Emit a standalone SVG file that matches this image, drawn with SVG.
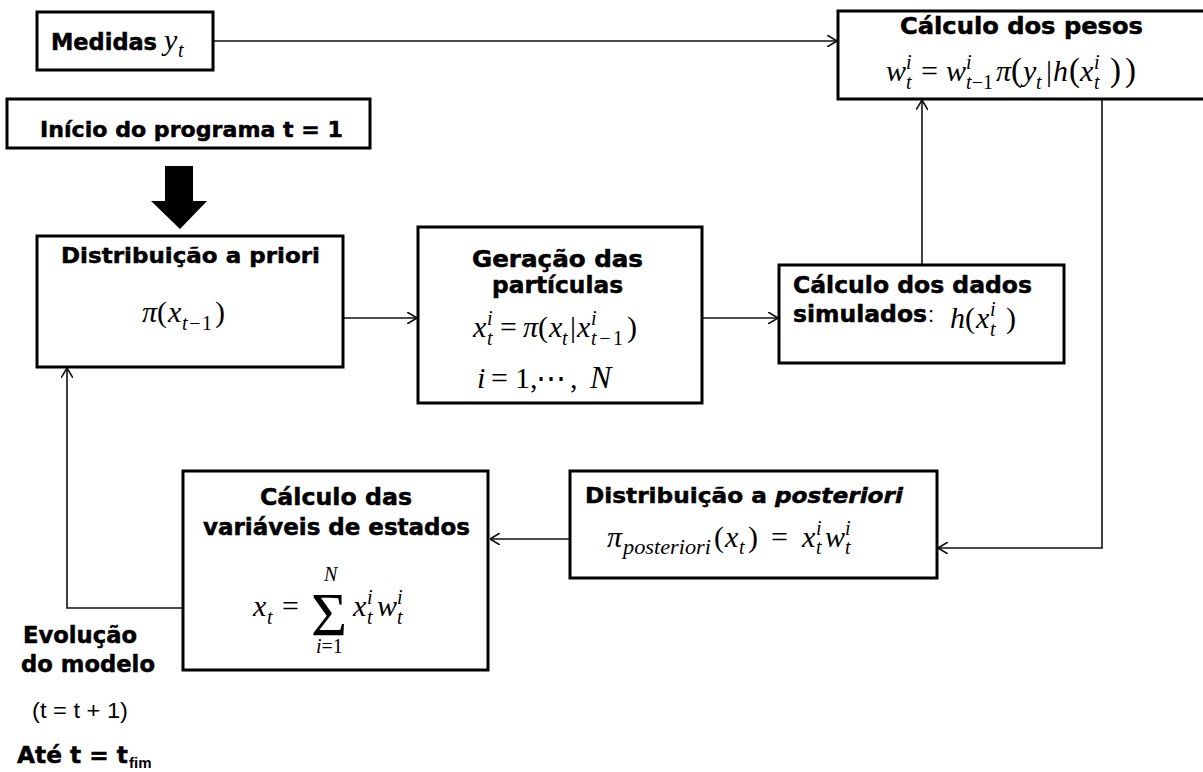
<svg xmlns="http://www.w3.org/2000/svg" width="1203" height="772" viewBox="0 0 1203 772">
<defs>
<style>
.box{fill:#fff;stroke:#000;stroke-width:3}
.lbl{font-family:"DejaVu Sans","Liberation Sans",sans-serif;font-weight:bold;font-size:23px;fill:#000;stroke:#000;stroke-width:0.5}
.reg{font-family:"Liberation Sans","Arial",sans-serif;font-size:22px;fill:#000}
.mi{font-family:"Liberation Serif","DejaVu Serif",serif;font-style:italic;font-size:30px;fill:#000}
.mu{font-family:"Liberation Serif","DejaVu Serif",serif;font-style:normal;font-size:30px;fill:#000}
.s{font-size:20px}
.up{font-style:normal}
.con{fill:none;stroke:#111;stroke-width:1.6}
</style>
<marker id="arr" viewBox="0 0 10 12" refX="10" refY="6" markerWidth="10" markerHeight="12" markerUnits="userSpaceOnUse" orient="auto">
<path d="M0,0 L10,6 L0,12" fill="none" stroke="#111" stroke-width="1.6"/>
</marker>
</defs>
<rect width="1203" height="772" fill="#fff"/>

<g id="connectors">
<path class="con" d="M213,41 H837" marker-end="url(#arr)"/>
<path class="con" d="M343,318 H417" marker-end="url(#arr)"/>
<path class="con" d="M702,318 H778" marker-end="url(#arr)"/>
<path class="con" d="M922,265 V100" marker-end="url(#arr)"/>
<path class="con" d="M1102,99 V548 H938" marker-end="url(#arr)"/>
<path class="con" d="M570,539 H490" marker-end="url(#arr)"/>
<path class="con" d="M183,608 H67 V368" marker-end="url(#arr)"/>
<polygon points="165,166 193,166 193,201 207,201 180,229 151,201 165,201" fill="#000"/>
</g>

<g id="medidas">
<rect class="box" x="37" y="12" width="176" height="58"/>
<text class="lbl" x="51" y="50" textLength="106" lengthAdjust="spacingAndGlyphs">Medidas</text>
<text class="mi" x="164" y="50">y</text>
<text class="mi s" x="178" y="57">t</text>
</g>

<g id="inicio">
<rect class="box" x="7" y="99" width="363" height="49"/>
<text class="lbl" x="40" y="137" style="font-size:22px" textLength="303" lengthAdjust="spacingAndGlyphs">Início do programa t = 1</text>
</g>

<g id="priori">
<rect class="box" x="37" y="236" width="306" height="131"/>
<text class="lbl" x="61" y="263" style="font-size:22px" textLength="259" lengthAdjust="spacingAndGlyphs">Distribuição a priori</text>
<text class="mi" x="142" y="322">π</text>
<text class="mu" x="157" y="322">(</text>
<text class="mi" x="168" y="322">x</text>
<text class="mi s" x="182" y="330" textLength="30" lengthAdjust="spacing">t<tspan class="up">−1</tspan></text>
<text class="mu" x="215" y="322">)</text>
</g>

<g id="geracao">
<rect class="box" x="418" y="227" width="284" height="176"/>
<text class="lbl" x="472" y="267" textLength="171" lengthAdjust="spacingAndGlyphs">Geração das</text>
<text class="lbl" x="492" y="293" textLength="131" lengthAdjust="spacingAndGlyphs">partículas</text>
<text class="mi" x="473" y="337">x</text>
<text class="mi s" x="487" y="325">i</text>
<text class="mi s" x="487" y="345">t</text>
<text class="mu" x="500" y="337">=</text>
<text class="mi" x="523" y="337">π</text>
<text class="mu" x="538" y="337">(</text>
<text class="mi" x="549" y="337">x</text>
<text class="mi s" x="562" y="345">t</text>
<text class="mu" x="570" y="337">|</text>
<text class="mi" x="577" y="337">x</text>
<text class="mi s" x="591" y="325">i</text>
<text class="mi s" x="591" y="345" textLength="32" lengthAdjust="spacing">t<tspan class="up">−1</tspan></text>
<text class="mu" x="627" y="337">)</text>
<text class="mi" x="477" y="388">i</text>
<text class="mu" x="491" y="388">=</text>
<text class="mu" x="515" y="388">1,</text>
<text class="mu" x="536" y="388">⋯</text>
<text class="mu" x="570" y="388">,</text>
<text class="mi" x="590" y="388" style="font-size:32px">N</text>
</g>

<g id="dados">
<rect class="box" x="779" y="265" width="285" height="98"/>
<text class="lbl" x="793" y="293" textLength="239" lengthAdjust="spacingAndGlyphs">Cálculo dos dados</text>
<text class="lbl" x="793" y="322" textLength="134" lengthAdjust="spacingAndGlyphs">simulados</text>
<text class="reg" x="928" y="322">:</text>
<text class="mi" x="950" y="328">h</text>
<text class="mu" x="965" y="328">(</text>
<text class="mi" x="976" y="328">x</text>
<text class="mi s" x="990" y="316">i</text>
<text class="mi s" x="990" y="336">t</text>
<text class="mu" x="1006" y="328">)</text>
</g>

<g id="pesos">
<rect class="box" x="838" y="11" width="368" height="88"/>
<text class="lbl" x="900" y="34" textLength="243" lengthAdjust="spacingAndGlyphs">Cálculo dos pesos</text>
<text class="mi" x="886" y="81">w</text>
<text class="mi s" x="906" y="69">i</text>
<text class="mi s" x="906" y="89">t</text>
<text class="mu" x="921" y="81">=</text>
<text class="mi" x="946" y="81">w</text>
<text class="mi s" x="966" y="69">i</text>
<text class="mi s" x="966" y="89" textLength="27" lengthAdjust="spacing">t<tspan class="up">−1</tspan></text>
<text class="mi" x="996" y="81">π</text>
<text class="mu" x="1011" y="81" style="font-size:33px">(</text>
<text class="mi" x="1023" y="81">y</text>
<text class="mi s" x="1036" y="89">t</text>
<text class="mu" x="1046" y="81">|</text>
<text class="mi" x="1053" y="81">h</text>
<text class="mu" x="1069" y="81" style="font-size:33px">(</text>
<text class="mi" x="1080" y="81">x</text>
<text class="mi s" x="1094" y="69">i</text>
<text class="mi s" x="1094" y="89">t</text>
<text class="mu" x="1110" y="81" style="font-size:33px">)</text>
<text class="mu" x="1125" y="81" style="font-size:33px">)</text>
</g>

<g id="posteriori">
<rect class="box" x="570" y="471" width="367" height="107"/>
<text class="lbl" x="585" y="503" style="font-size:22px" textLength="318" lengthAdjust="spacingAndGlyphs">Distribuição a <tspan style="font-style:italic">posteriori</tspan></text>
<text class="mi" x="607" y="547">π</text>
<text class="mi s" x="623" y="554" textLength="88" lengthAdjust="spacingAndGlyphs">posteriori</text>
<text class="mu" x="714" y="547">(</text>
<text class="mi" x="725" y="547">x</text>
<text class="mi s" x="739" y="554">t</text>
<text class="mu" x="748" y="547">)</text>
<text class="mu" x="771" y="547">=</text>
<text class="mi" x="802" y="547">x</text>
<text class="mi s" x="816" y="535">i</text>
<text class="mi s" x="816" y="554">t</text>
<text class="mi" x="825" y="547">w</text>
<text class="mi s" x="845" y="535">i</text>
<text class="mi s" x="845" y="554">t</text>
</g>

<g id="variaveis">
<rect class="box" x="183" y="471" width="305" height="199"/>
<text class="lbl" x="260" y="505" textLength="152" lengthAdjust="spacingAndGlyphs">Cálculo das</text>
<text class="lbl" x="203" y="535" textLength="267" lengthAdjust="spacingAndGlyphs">variáveis de estados</text>
<text class="mi" x="253" y="616">x</text>
<text class="mi s" x="267" y="624">t</text>
<text class="mu" x="282" y="616">=</text>
<text class="mu" x="311" y="635" style="font-size:62px">Σ</text>
<text class="mi s" x="324" y="581">N</text>
<text class="mi s" x="316" y="653">i<tspan class="up">=1</tspan></text>
<text class="mi" x="353" y="616">x</text>
<text class="mi s" x="367" y="604">i</text>
<text class="mi s" x="367" y="624">t</text>
<text class="mi" x="377" y="616">w</text>
<text class="mi s" x="397" y="604">i</text>
<text class="mi s" x="397" y="624">t</text>
</g>

<g id="evolucao">
<text class="lbl" x="23" y="643" textLength="114" lengthAdjust="spacingAndGlyphs">Evolução</text>
<text class="lbl" x="21" y="672" textLength="134" lengthAdjust="spacingAndGlyphs">do modelo</text>
<text class="reg" x="32" y="718" textLength="96" lengthAdjust="spacingAndGlyphs">(t = t + 1)</text>
<text class="lbl" x="17" y="763" textLength="111" lengthAdjust="spacingAndGlyphs">Até t = t</text>
<text x="129" y="768" style="font-family:'Liberation Sans',Arial,sans-serif;font-weight:bold;font-size:15px">fim</text>
</g>
</svg>
